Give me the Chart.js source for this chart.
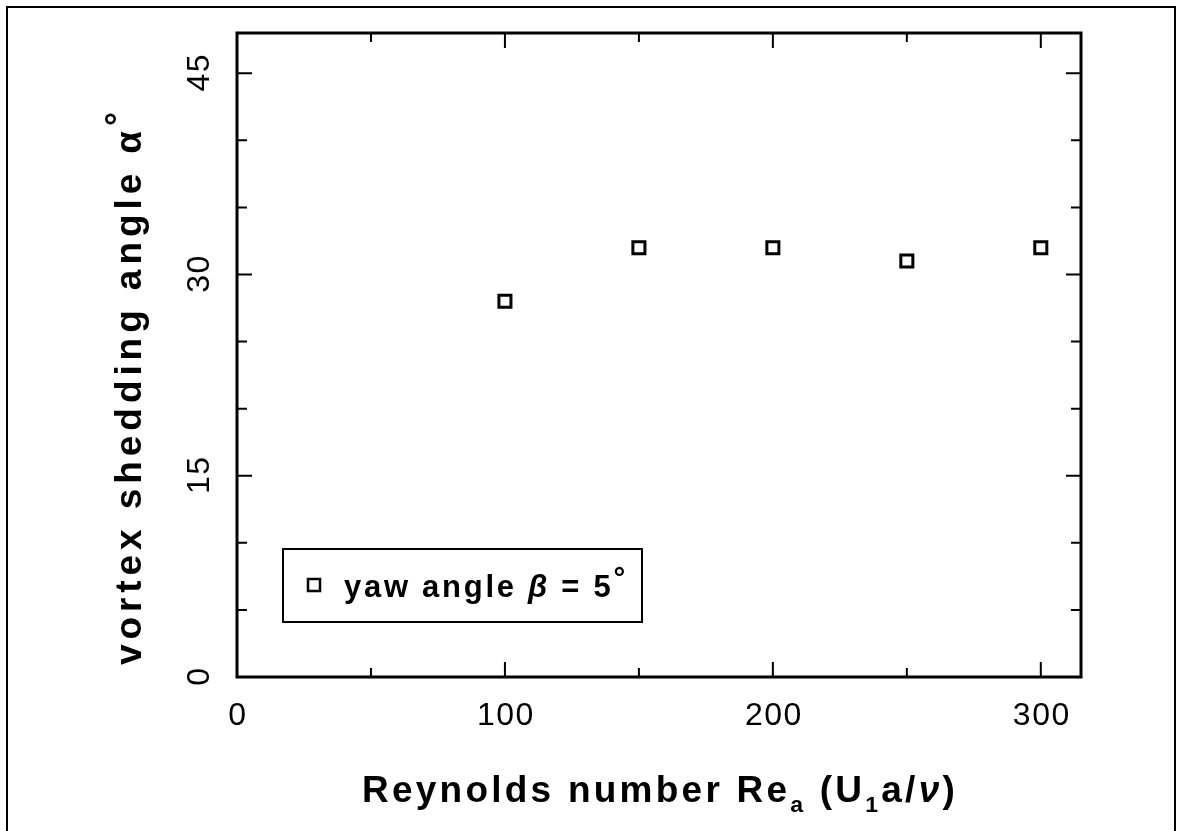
<!DOCTYPE html>
<html>
<head>
<meta charset="utf-8">
<script src="https://cdn.jsdelivr.net/npm/chart.js@4/dist/chart.umd.min.js"></script>
<style>
  html, body { margin: 0; padding: 0; background: #fff; }
  canvas { display: block; }
</style>
</head>
<body>
<canvas id="chart" width="1181" height="831"></canvas>
<script>
// Reynolds number Re_a and measured vortex shedding angle (degrees), yaw angle 5°
const reynolds = [100, 150, 200, 250, 300];
const sheddingAngle = [28, 32, 32, 31, 32];

// Labelled tick values on each axis
const xLabelValues = [0, 100, 200, 300];
const yLabelValues = [0, 15, 30, 45];

const FONT = '"Liberation Sans", Arial, Helvetica, sans-serif';

// Draw a run of text pieces (plain, subscript, superscript, italic) on one line,
// spreading the letters so the whole run spans `width` pixels.
function drawRich(ctx, segs, x, y, size, weight, width, align) {
  const parts = segs.map(s => {
    const sz = s.sub ? size * 0.62 : (s.sup ? size * 0.95 : size);
    const font = (s.italic ? 'italic ' : '') + weight + ' ' + sz + 'px ' + FONT;
    ctx.font = font;
    ctx.letterSpacing = '0px';
    const w = ctx.measureText(s.text).width;
    const dy = s.sub ? size * 0.28 : (s.sup ? -size * 0.3 : 0);
    return { text: s.text, font, w, dy, n: [...s.text].length };
  });
  const natural = parts.reduce((a, p) => a + p.w, 0);
  const count = parts.reduce((a, p) => a + p.n, 0);
  const spacing = Math.max(0, (width - natural) / count);
  let cx = align === 'center' ? x - width / 2 : x;
  ctx.textAlign = 'left';
  ctx.textBaseline = 'alphabetic';
  for (const p of parts) {
    ctx.font = p.font;
    ctx.letterSpacing = spacing + 'px';
    ctx.fillText(p.text, cx, y + p.dy);
    cx += p.w + spacing * p.n;
  }
  ctx.letterSpacing = '0px';
}

const framePlugin = {
  id: 'frame',
  afterDraw(chart) {
    const ctx = chart.ctx;
    const a = chart.chartArea;
    const xs = chart.scales.x, ys = chart.scales.y;
    ctx.save();
    ctx.strokeStyle = '#000';
    ctx.fillStyle = '#000';

    // outer page frame
    ctx.lineWidth = 2;
    ctx.beginPath();
    ctx.moveTo(7, 840); ctx.lineTo(7, 7); ctx.lineTo(1175, 7); ctx.lineTo(1175, 840);
    ctx.stroke();

    // plot box
    ctx.lineWidth = 3;
    ctx.strokeRect(a.left, a.top, a.right - a.left, a.bottom - a.top);

    // inward ticks on all four sides
    ctx.lineWidth = 2;
    ctx.beginPath();
    xs.ticks.forEach(t => {
      if (t.value % 50 !== 0) return;
      const px = xs.getPixelForValue(t.value);
      const len = xLabelValues.includes(t.value) ? 15 : 9;
      ctx.moveTo(px, a.bottom); ctx.lineTo(px, a.bottom - len);
      ctx.moveTo(px, a.top); ctx.lineTo(px, a.top + len);
    });
    ys.ticks.forEach(t => {
      if (t.value % 5 !== 0) return;
      const py = ys.getPixelForValue(t.value);
      const len = yLabelValues.includes(t.value) ? 15 : 10;
      ctx.moveTo(a.left, py); ctx.lineTo(a.left + len, py);
      ctx.moveTo(a.right, py); ctx.lineTo(a.right - len, py);
    });
    ctx.stroke();

    // tick labels
    ctx.font = '32px ' + FONT;
    ctx.letterSpacing = '1.5px';
    ctx.textAlign = 'center';
    ctx.textBaseline = 'middle';
    xLabelValues.forEach(v => {
      ctx.fillText(String(v), xs.getPixelForValue(v) + 1, 716);
    });
    yLabelValues.forEach(v => {
      ctx.save();
      ctx.translate(200, ys.getPixelForValue(v));
      ctx.rotate(-Math.PI / 2);
      ctx.fillText(String(v), 1, 0);
      ctx.restore();
    });
    ctx.letterSpacing = '0px';

    // x axis title
    drawRich(ctx, [
      { text: 'Reynolds number Re' },
      { text: 'a', sub: true },
      { text: ' (U' },
      { text: '1', sub: true },
      { text: 'a/' },
      { text: 'ν', italic: true },
      { text: ')' }
    ], 660, 802, 37, 'bold', 596, 'center');

    // y axis title
    ctx.save();
    ctx.translate(141, 386);
    ctx.rotate(-Math.PI / 2);
    drawRich(ctx, [
      { text: 'vortex shedding angle α' },
      { text: '°', sup: true }
    ], 0, 0, 37, 'bold', 558, 'center');
    ctx.restore();

    // legend box
    ctx.lineWidth = 2;
    ctx.strokeRect(283, 549, 359, 73);
    ctx.lineWidth = 2.5;
    ctx.strokeRect(308, 579, 12, 12);
    drawRich(ctx, [
      { text: 'yaw angle ' },
      { text: 'β', italic: true },
      { text: ' = 5' },
      { text: '°', sup: true }
    ], 344, 597, 31, 'bold', 284, 'left');

    ctx.restore();
  }
};

new Chart(document.getElementById('chart'), {
  type: 'scatter',
  data: {
    datasets: [{
      label: 'yaw angle β = 5°',
      data: reynolds.map((r, i) => ({ x: r, y: sheddingAngle[i] })),
      pointStyle: 'rect',
      pointRadius: 8.5,
      pointHoverRadius: 8.5,
      borderColor: '#000',
      backgroundColor: 'rgba(0,0,0,0)',
      borderWidth: 3
    }]
  },
  options: {
    responsive: false,
    animation: false,
    devicePixelRatio: 1,
    layout: { padding: { left: 237, right: 100, top: 33, bottom: 154 } },
    plugins: { legend: { display: false }, tooltip: { enabled: false } },
    scales: {
      x: {
        type: 'linear', min: 0, max: 315,
        ticks: { display: false, stepSize: 50 },
        grid: { display: false, drawTicks: false },
        border: { display: false }
      },
      y: {
        type: 'linear', min: 0, max: 48,
        ticks: { display: false, stepSize: 5 },
        grid: { display: false, drawTicks: false },
        border: { display: false }
      }
    }
  },
  plugins: [framePlugin]
});
</script>
</body>
</html>
